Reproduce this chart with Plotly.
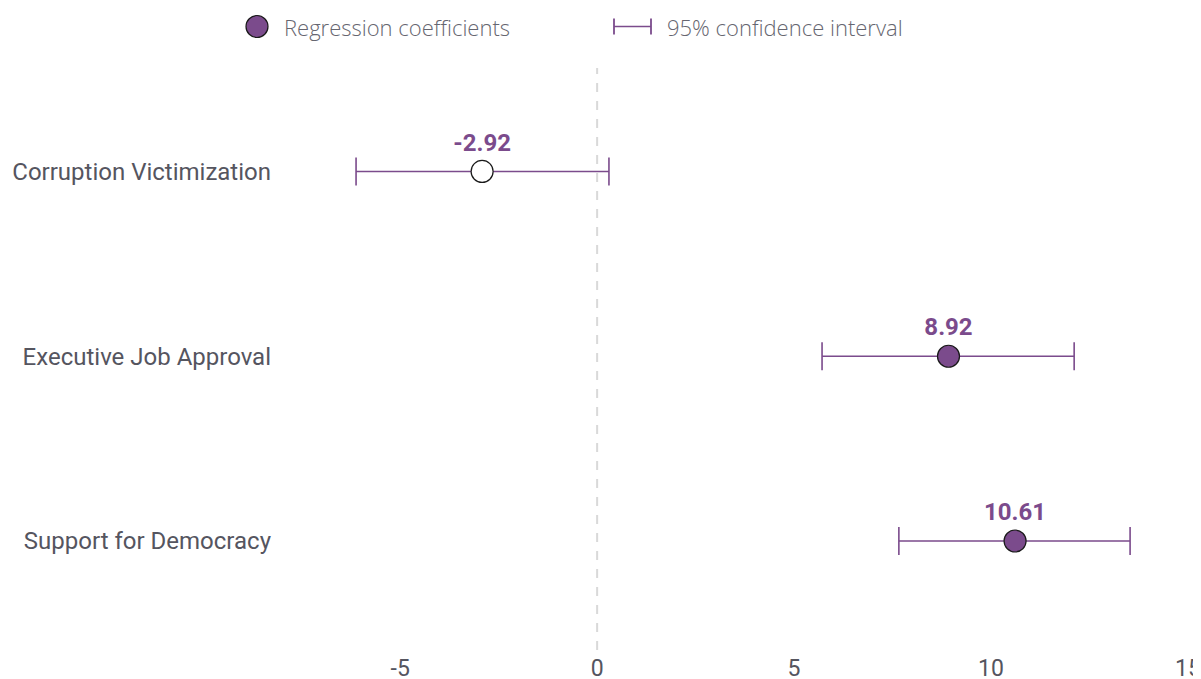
import plotly.graph_objects as go

categories = ["Corruption Victimization", "Executive Job Approval", "Support for Democracy"]
coefficients = [-2.92, 8.92, 10.61]
ci_low = [-6.12, 5.71, 7.66]
ci_high = [0.30, 12.11, 13.53]
significant = [False, True, True]
x_ticks = [-5, 0, 5, 10, 15]
x_tick_labels = ["-5", "0", "5", "10", "15"]

PURPLE = "#7b4b8c"
GRAY = "#55555f"

ypos = list(range(len(categories)))
fills = [PURPLE if s else "white" for s in significant]

fig = go.Figure()
fig.add_trace(go.Scatter(
    x=coefficients, y=ypos, mode="markers+text",
    text=[f"{v:.2f}" for v in coefficients], textposition="top center",
    textfont=dict(family="Roboto", size=24, color=PURPLE, weight="bold"),
    marker=dict(size=22, color=fills, line=dict(color="#1a1a1a", width=1.2)),
    error_x=dict(type="data", symmetric=False,
                 array=[h - c for h, c in zip(ci_high, coefficients)],
                 arrayminus=[c - l for l, c in zip(ci_low, coefficients)],
                 color=PURPLE, thickness=1.6, width=14),
    showlegend=False, cliponaxis=False,
))

fig.add_shape(type="line", xref="x", yref="paper", x0=0, x1=0, y0=0, y1=1,
              line=dict(color="#d9d9d9", width=2, dash="dash"), layer="below")

# Page offset (body margin) of 8 px
OFF = 8
# Plot area in page pixels
L, W, T, H = 282, 906, 68, 582
def px(x): return (x - L) / W
def py(y): return (T + H - y) / H
ly = py(26.5)
fig.add_shape(type="circle", xref="paper", yref="paper", xsizemode="pixel", ysizemode="pixel",
              xanchor=px(257), yanchor=ly, x0=-11, x1=11, y0=-11, y1=11,
              fillcolor=PURPLE, line=dict(color="#1a1a1a", width=1.2))
fig.add_annotation(xref="paper", yref="paper", x=px(282), y=ly, xanchor="left", yanchor="middle",
                   text="Regression coefficients", showarrow=False,
                   font=dict(family="Open Sans", size=22, color="#666670", weight=300))
fig.add_shape(type="line", xref="paper", yref="paper", x0=px(614), x1=px(651), y0=ly, y1=ly,
              line=dict(color=PURPLE, width=1.6))
for xx in (614, 651):
    fig.add_shape(type="line", xref="paper", yref="paper", ysizemode="pixel", yanchor=ly,
                  x0=px(xx), x1=px(xx), y0=-8, y1=8, line=dict(color=PURPLE, width=1.8))
fig.add_annotation(xref="paper", yref="paper", x=px(665), y=ly, xanchor="left", yanchor="middle",
                   text="95% confidence interval", showarrow=False,
                   font=dict(family="Open Sans", size=22, color="#666670", weight=300))

fig.update_layout(
    width=1201, height=679, paper_bgcolor="white", plot_bgcolor="white",
    margin=dict(l=L - OFF, r=1201 - (L - OFF) - W, t=T - OFF, b=679 - (T - OFF) - H,
                autoexpand=False),
    font=dict(family="Roboto", color=GRAY, size=20),
    xaxis=dict(range=[-8, 15], tickvals=x_ticks, ticktext=x_tick_labels, showgrid=False,
               zeroline=False, showline=False, ticks="", automargin=False,
               ticklabelstandoff=2, tickfont=dict(size=23, color=GRAY)),
    yaxis=dict(range=[2.59, -0.56], tickvals=ypos, ticktext=categories, showgrid=False,
               zeroline=False, showline=False, ticks="", ticklabelstandoff=10, automargin=False,
               tickfont=dict(size=24, color=GRAY)),
)

fig.write_html("out.html")
